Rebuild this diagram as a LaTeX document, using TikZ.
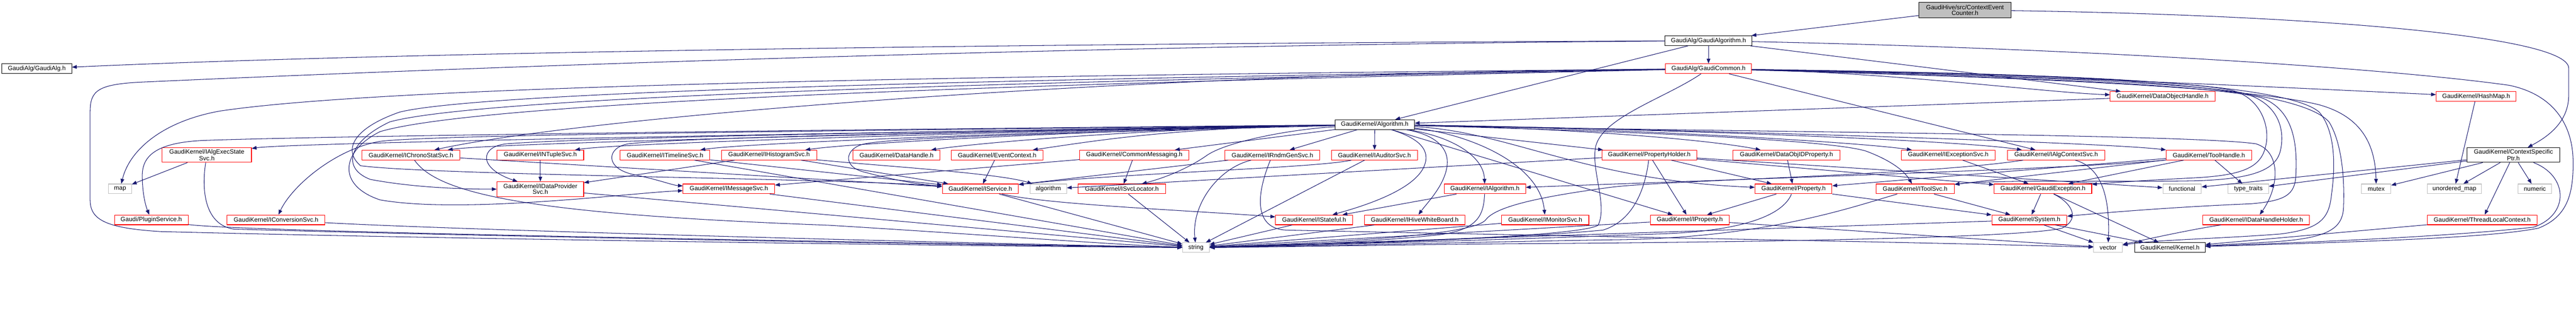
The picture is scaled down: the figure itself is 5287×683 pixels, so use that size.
\documentclass[tikz,border=0pt]{standalone}
\usepackage{fontspec}
\setmainfont{Liberation Sans}
\usetikzlibrary{arrows.meta}
\definecolor{edgec}{HTML}{191970}
\definecolor{greyb}{HTML}{BFBFBF}
\definecolor{redb}{HTML}{FF0000}
\begin{document}
\begin{tikzpicture}[x=1pt,y=-1pt,
  nd/.style={draw, line width=1.1pt, inner sep=0pt, minimum height=20pt, font=\fontsize{12.7}{11.5}\selectfont, align=center},
  rd/.style={nd, draw=redb},
  bk/.style={nd, draw=black},
  gr/.style={nd, draw=greyb},
  e/.style={draw=edgec, line width=1.1pt, -{Triangle[length=10pt,width=7.5pt]}}]
\useasboundingbox (0,0) rectangle (5287,683);
% ---------- nodes ----------
\node[bk,fill=greyb,minimum width=190pt,minimum height=31pt] (CEC) at (4033,20.5) {GaudiHive/src/ContextEvent\\Counter.h};
\node[bk,minimum width=179pt] (GA) at (3506.5,83.5) {GaudiAlg/GaudiAlgorithm.h};
\node[bk,minimum width=143pt] (GAlg) at (75.5,141) {GaudiAlg/GaudiAlg.h};
\node[rd,minimum width=177pt] (GC) at (3506.5,141) {GaudiAlg/GaudiCommon.h};
\node[rd,minimum width=215pt] (DOH) at (4438.5,198) {GaudiKernel/DataObjectHandle.h};
\node[rd,minimum width=164pt] (HM) at (5082,198) {GaudiKernel/HashMap.h};
\node[bk,minimum width=163pt] (ALG) at (2821.5,255.5) {GaudiKernel/Algorithm.h};
% row 5
\node[rd,minimum width=183pt,minimum height=30pt] (AES) at (424.5,318) {GaudiKernel/IAlgExecState\\Svc.h};
\node[rd,minimum width=201pt] (CSS) at (843.5,318) {GaudiKernel/IChronoStatSvc.h};
\node[rd,minimum width=178pt] (NTS) at (1109,318) {GaudiKernel/INTupleSvc.h};
\node[rd,minimum width=184pt] (TLS) at (1365,318) {GaudiKernel/ITimelineSvc.h};
\node[rd,minimum width=195pt] (HS) at (1578.5,318) {GaudiKernel/IHistogramSvc.h};
\node[rd,minimum width=178pt] (DH) at (1840,318) {GaudiKernel/DataHandle.h};
\node[rd,minimum width=189pt] (EC) at (2046.5,318) {GaudiKernel/EventContext.h};
\node[rd,minimum width=224pt] (CM) at (2328,318) {GaudiKernel/CommonMessaging.h};
\node[rd,minimum width=195pt] (RGS) at (2611.5,318) {GaudiKernel/IRndmGenSvc.h};
\node[rd,minimum width=176pt] (AUD) at (2821,318) {GaudiKernel/IAuditorSvc.h};
\node[rd,minimum width=194pt] (PH) at (3385,318) {GaudiKernel/PropertyHolder.h};
\node[rd,minimum width=219pt] (DOIP) at (3666.5,318) {GaudiKernel/DataObjIDProperty.h};
\node[rd,minimum width=193pt] (EXS) at (3998.5,318) {GaudiKernel/IExceptionSvc.h};
\node[rd,minimum width=200pt] (ACS) at (4220,318) {GaudiKernel/IAlgContextSvc.h};
\node[rd,minimum width=175pt] (TH) at (4533.5,318) {GaudiKernel/ToolHandle.h};
\node[bk,minimum width=191pt,minimum height=30pt] (CSP) at (5158.5,318) {GaudiKernel/ContextSpecific\\Ptr.h};
% row 6
\node[gr,minimum width=47pt] (map) at (246.5,387.5) {map};
\node[rd,minimum width=178pt,minimum height=30pt] (DPS) at (1109,388) {GaudiKernel/IDataProvider\\Svc.h};
\node[rd,minimum width=188pt] (MS) at (1496,387.5) {GaudiKernel/IMessageSvc.h};
\node[rd,minimum width=156pt] (SVC) at (2012,387.5) {GaudiKernel/IService.h};
\node[gr,minimum width=75pt] (algorithm) at (2151.5,387.5) {algorithm};
\node[rd,minimum width=179pt] (SL) at (2302.5,387.5) {GaudiKernel/ISvcLocator.h};
\node[rd,minimum width=167pt] (IALG) at (3047.5,387.5) {GaudiKernel/IAlgorithm.h};
\node[rd,minimum width=158pt] (PROP) at (3681,387.5) {GaudiKernel/Property.h};
\node[rd,minimum width=161pt] (TS) at (3930.5,387.5) {GaudiKernel/IToolSvc.h};
\node[rd,minimum width=200pt] (GE) at (4193,387.5) {GaudiKernel/GaudiException.h};
\node[gr,minimum width=79pt] (functional) at (4478.5,387.5) {functional};
\node[gr,minimum width=83pt] (tt) at (4614.5,387.5) {type\_traits};
\node[gr,minimum width=60pt] (mutex) at (4877,387.5) {mutex};
\node[gr,minimum width=111pt] (umap) at (5037.5,387.5) {unordered\_map};
\node[gr,minimum width=69pt] (numeric) at (5202.5,387.5) {numeric};
% row 7
\node[rd,minimum width=151pt] (PS) at (310.5,451) {Gaudi/PluginService.h};
\node[rd,minimum width=201pt] (CVS) at (566.5,451) {GaudiKernel/IConversionSvc.h};
\node[rd,minimum width=158pt] (STF) at (2697,451) {GaudiKernel/IStateful.h};
\node[rd,minimum width=207pt] (HWB) at (2903.5,451) {GaudiKernel/IHiveWhiteBoard.h};
\node[rd,minimum width=179pt] (MON) at (3171.5,451) {GaudiKernel/IMonitorSvc.h};
\node[rd,minimum width=162pt] (IPROP) at (3468,451) {GaudiKernel/IProperty.h};
\node[rd,minimum width=154pt] (SYS) at (4165,451) {GaudiKernel/System.h};
\node[rd,minimum width=219pt] (DHH) at (4630.5,451) {GaudiKernel/IDataHandleHolder.h};
\node[rd,minimum width=225pt] (TLC) at (5094.5,451) {GaudiKernel/ThreadLocalContext.h};
% row 8
\node[gr,minimum width=55pt] (string) at (2454.5,508) {string};
\node[gr,minimum width=59pt] (vector) at (4326.5,508) {vector};
\node[bk,minimum width=145pt] (KER) at (4453.5,508) {GaudiKernel/Kernel.h};
% ---------- edges ----------
% root
\draw[e] (CEC) -- (GA);
\draw[e] (CEC) .. controls (4700,30) and (5272,70) .. (5272,140) -- (5272,195) .. controls (5272,250) and (5230,280) .. (CSP);
% GaudiAlgorithm
\draw[e] (GA) .. controls (2000,90) and (800,108) .. (GAlg);
\draw[e] (GA) -- (GC);
\draw[e] (GA) -- (ALG);
\draw[e] (GA) -- (DOH);
\draw[e] (GA) .. controls (4300,100) and (4900,140) .. (5150,175) .. controls (5245,195) and (5280,260) .. (5281,330) .. controls (5282,400) and (5268,445) .. (5210,468) .. controls (5100,490) and (4800,497) .. (KER);
\draw[e] (GA) .. controls (2000,95) and (700,150) .. (300,168) .. controls (200,172) and (185,185) .. (185,230) -- (185,410) .. controls (185,450) and (215,468) .. (330,475) .. controls (900,490) and (2000,505) .. (string);
% GaudiCommon
\draw[e] (GC) .. controls (2000,155) and (800,175) .. (450,228) .. controls (330,250) and (265,310) .. (map);
\draw[e] (GC) .. controls (3420,200) and (3290,240) .. (3275,300) .. controls (3265,350) and (3300,420) .. (3280,462) .. controls (3250,480) and (3000,492) .. (2700,500) .. controls (2600,503) and (2520,507) .. (string);
\draw[e] (GC) .. controls (2300,150) and (1200,240) .. (CSS);
\draw[e] (GC) .. controls (2200,165) and (1000,195) .. (800,250) .. controls (715,290) and (700,345) .. (760,368) .. controls (850,385) and (950,388) .. (DPS);
\draw[e] (GC) .. controls (2200,170) and (1000,205) .. (780,270) .. controls (700,310) and (690,380) .. (780,410) .. controls (950,440) and (1300,395) .. (MS);
\draw[e] (GC) .. controls (2200,160) and (1000,185) .. (820,230) .. controls (720,265) and (705,310) .. (740,340) .. controls (900,360) and (1700,365) .. (SVC);
\draw[e] (GC) -- (ACS);
\draw[e] (GC) .. controls (4200,155) and (4700,180) .. (HM);
\draw[e] (GC) .. controls (3900,150) and (4200,190) .. (DOH);
\draw[e] (GC) .. controls (4000,150) and (4450,160) .. (4580,185) .. controls (4640,200) and (4660,260) .. (4650,300) .. controls (4640,345) and (4600,360) .. (4500,365) .. controls (4400,370) and (4330,375) .. (GE);
\draw[e] (GC) .. controls (4000,152) and (4450,165) .. (4600,190) .. controls (4680,210) and (4690,270) .. (4680,310) .. controls (4670,350) and (4620,368) .. (4500,371) .. controls (4300,374) and (4100,368) .. (TS);
\draw[e] (GC) .. controls (4000,155) and (4500,168) .. (4640,200) .. controls (4710,225) and (4715,300) .. (4712,360) .. controls (4710,400) and (4690,412) .. (4620,418) .. controls (4450,425) and (4300,438) .. (SYS);
\draw[e] (GC) .. controls (4100,158) and (4600,175) .. (4760,215) .. controls (4850,240) and (4875,300) .. (mutex);
\draw[e] (GC) .. controls (4100,150) and (4680,160) .. (4760,230) .. controls (4790,265) and (4795,330) .. (4785,400) .. controls (4780,450) and (4760,470) .. (4680,480) .. controls (4550,490) and (4420,492) .. (vector);
\draw[e] (GC) .. controls (4100,150) and (4700,160) .. (4780,250) .. controls (4805,290) and (4812,360) .. (4810,420) .. controls (4810,470) and (4780,490) .. (4650,497) .. controls (4600,500) and (4560,502) .. (KER);
% Algorithm
\draw[e] (ALG) .. controls (2400,262) and (616,290) .. (AES);
\draw[e] (ALG) .. controls (2400,262) and (1044,290) .. (CSS);
\draw[e] (ALG) .. controls (2400,262) and (1298,290) .. (NTS);
\draw[e] (ALG) .. controls (2400,262) and (1557,290) .. (TLS);
\draw[e] (ALG) .. controls (2400,262) and (1776,290) .. (HS);
\draw[e] (ALG) .. controls (2400,262) and (2029,290) .. (DH);
\draw[e] (ALG) .. controls (2400,262) and (2241,290) .. (EC);
\draw[e] (ALG) -- (CM);
\draw[e] (ALG) -- (RGS);
\draw[e] (ALG) -- (AUD);
\draw[e] (ALG) -- (PH);
\draw[e] (ALG) .. controls (3200,262) and (3500,285) .. (DOIP);
\draw[e] (ALG) .. controls (3300,262) and (3800,290) .. (EXS);
\draw[e] (ALG) .. controls (3300,262) and (4000,285) .. (ACS);
\draw[e] (ALG) .. controls (3300,262) and (4300,290) .. (TH);
\draw[e] (ALG) .. controls (1800,265) and (700,278) .. (420,288) .. controls (320,292) and (292,320) .. (292,360) .. controls (292,400) and (300,425) .. (PS);
\draw[e] (ALG) .. controls (1800,268) and (900,275) .. (780,290) .. controls (690,305) and (600,380) .. (CVS);
\draw[e] (ALG) .. controls (2000,268) and (1200,282) .. (1040,295) .. controls (985,300) and (980,345) .. (DPS);
\draw[e] (ALG) .. controls (2000,270) and (1400,282) .. (1290,295) .. controls (1245,302) and (1240,345) .. (1300,358) .. controls (1350,368) and (1380,380) .. (MS);
\draw[e] (ALG) .. controls (2300,270) and (1850,280) .. (1775,295) .. controls (1735,303) and (1728,340) .. (1770,352) .. controls (1830,368) and (1880,378) .. (SVC);
\draw[e] (ALG) .. controls (2650,265) and (2520,290) .. (2478,318) .. controls (2440,345) and (2390,365) .. (SL);
\draw[e] (ALG) .. controls (2980,280) and (3045,320) .. (IALG);
\draw[e] (ALG) .. controls (2900,280) and (2935,300) .. (2925,335) .. controls (2910,390) and (2790,425) .. (STF);
\draw[e] (ALG) .. controls (2940,275) and (2975,300) .. (2970,340) .. controls (2965,380) and (2930,415) .. (HWB);
\draw[e] (ALG) .. controls (3000,272) and (3160,330) .. (MON);
\draw[e] (ALG) -- (IPROP);
\draw[e] (ALG) .. controls (3100,270) and (3250,370) .. (PROP);
\draw[e] (ALG) .. controls (3300,268) and (3750,285) .. (3830,310) .. controls (3870,325) and (3905,345) .. (TS);
\draw[e] (ALG) .. controls (3500,270) and (4500,275) .. (4630,295) .. controls (4680,310) and (4680,380) .. (DHH);
% row 5 sources
\draw[e] (AES) -- (map);
\draw[e] (AES) .. controls (412,400) and (425,462) .. (480,470) .. controls (1000,485) and (2000,503) .. (string);
\draw[e] (CSS) -- (SVC);
\draw[e] (CSS) .. controls (900,400) and (1100,440) .. (1700,462) .. controls (2000,480) and (2300,503) .. (string);
\draw[e] (NTS) -- (DPS);
\draw[e] (TLS) -- (SVC);
\draw[e] (TLS) -- (string);
\draw[e] (HS) -- (DPS);
\draw[e] (HS) -- (SVC);
\draw[e] (HS) .. controls (1800,340) and (2050,355) .. (algorithm);
\draw[e] (EC) -- (SVC);
\draw[e] (CM) -- (SL);
\draw[e] (CM) -- (MS);
\draw[e] (RGS) .. controls (2500,345) and (2445,420) .. (string);
\draw[e] (RGS) -- (SVC);
\draw[e] (RGS) .. controls (2570,420) and (2585,470) .. (2640,472) .. controls (3300,486) and (4000,498) .. (vector);
\draw[e] (AUD) .. controls (2700,345) and (2300,355) .. (SVC);
\draw[e] (AUD) -- (string);
\draw[e] (PH) -- (IPROP);
\draw[e] (PH) -- (PROP);
\draw[e] (PH) .. controls (3375,400) and (3345,455) .. (3290,472) .. controls (3100,490) and (2700,503) .. (string);
\draw[e] (PH) -- (algorithm);
\draw[e] (PH) -- (functional);
\draw[e] (PH) -- (GE);
\draw[e] (DOIP) -- (PROP);
\draw[e] (EXS) -- (GE);
\draw[e] (ACS) .. controls (4320,345) and (4330,420) .. (vector);
\draw[e] (ACS) .. controls (3950,360) and (3400,370) .. (3300,385) .. controls (3150,405) and (3070,425) .. (3050,450) .. controls (3030,480) and (2800,495) .. (string);
\draw[e] (TH) -- (tt);
\draw[e] (TH) -- (TS);
\draw[e] (TH) -- (GE);
\draw[e] (TH) .. controls (4300,345) and (3500,370) .. (IALG);
\draw[e] (TH) -- (PROP);
\draw[e] (CSP) -- (mutex);
\draw[e] (CSP) -- (umap);
\draw[e] (CSP) -- (numeric);
\draw[e] (CSP) -- (TLC);
\draw[e] (CSP) -- (tt);
\draw[e] (CSP) -- (functional);
\draw[e] (CSP) .. controls (5270,360) and (5275,440) .. (5200,466) .. controls (5000,488) and (4700,498) .. (KER);
\draw[e] (HM) -- (umap);
\draw[e] (DOH) -- (ALG);
% row 6 sources
\draw[e] (DPS) -- (string);
\draw[e] (MS) -- (string);
\draw[e] (SVC) -- (string);
\draw[e] (SVC) .. controls (2150,420) and (2450,432) .. (STF);
\draw[e] (SL) -- (string);
\draw[e] (IALG) -- (STF);
\draw[e] (IALG) .. controls (3045,440) and (3035,472) .. (2950,482) .. controls (2800,498) and (2600,505) .. (string);
\draw[e] (PROP) -- (IPROP);
\draw[e] (PROP) .. controls (3660,440) and (3580,475) .. (3400,480) .. controls (3000,495) and (2600,505) .. (string);
\draw[e] (PROP) -- (SYS);
\draw[e] (TS) -- (SYS);
\draw[e] (TS) .. controls (3800,425) and (3620,490) .. (3300,492) .. controls (3000,497) and (2700,505) .. (string);
\draw[e] (GE) -- (SYS);
\draw[e] (GE) -- (KER);
\draw[e] (GE) .. controls (4250,415) and (4272,448) .. (4232,468) .. controls (4150,488) and (3600,497) .. (3100,500) .. controls (2800,503) and (2600,507) .. (string);
% row 7 sources
\draw[e] (PS) .. controls (500,475) and (1500,492) .. (string);
\draw[e] (CVS) .. controls (900,470) and (1800,495) .. (string);
\draw[e] (STF) -- (string);
\draw[e] (HWB) -- (string);
\draw[e] (MON) -- (string);
\draw[e] (IPROP) -- (string);
\draw[e] (IPROP) -- (vector);
\draw[e] (SYS) -- (string);
\draw[e] (SYS) -- (vector);
\draw[e] (SYS) -- (KER);
\draw[e] (DHH) .. controls (4500,470) and (4400,492) .. (vector);
\draw[e] (TLC) -- (KER);
\end{tikzpicture}
\end{document}
